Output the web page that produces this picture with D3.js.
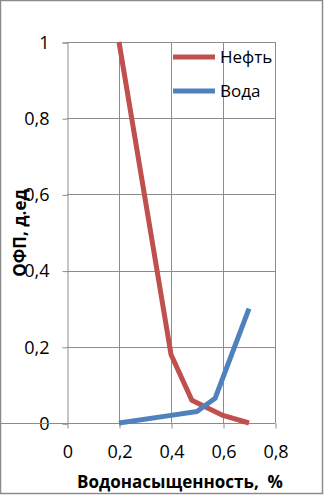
<!DOCTYPE html>
<html>
<head>
<meta charset="utf-8">
<script src="https://cdn.jsdelivr.net/npm/d3@7"></script>
<style>
body{margin:0;background:#fff;}
text{font-family:"Open Sans","Noto Sans",sans-serif;white-space:pre;}
</style>
</head>
<body>
<div class="canvas"></div>
<script>
const W=324,H=495;
const xTicks=[0,0.2,0.4,0.6,0.8];
const yTicks=[0,0.2,0.4,0.6,0.8,1];
const oilX=[0.2,0.4,0.48,0.6,0.7];
const oilY=[1,0.18,0.06,0.02,0];
const waterX=[0.2,0.4,0.5,0.57,0.7];
const waterY=[0,0.02,0.03,0.065,0.3];
const seriesNames=["Нефть","Вода"];
const colors=["#C0504D","#4F81BD"];

const fmt=d=>String(d).replace(".",",");

const xScale=d3.scaleLinear().domain([0,0.8]).range([67,275]);
const yScale=d3.scaleLinear().domain([0,1]).range([423,42]);

const svg=d3.select(".canvas").append("svg")
  .attr("width",W).attr("height",H);

svg.append("rect").attr("x",0.5).attr("y",0.5).attr("width",W-2).attr("height",H-2)
  .attr("fill","#fff").attr("stroke","#8c8c8c").attr("stroke-width",1.5);

// grid
svg.append("g").selectAll("line").data(yTicks.slice(1)).join("line")
  .attr("x1",67).attr("x2",275)
  .attr("y1",d=>Math.round(yScale(d))+0.5).attr("y2",d=>Math.round(yScale(d))+0.5)
  .attr("stroke","#8c8c8c");
svg.append("g").selectAll("line").data(xTicks.slice(1)).join("line")
  .attr("y1",42).attr("y2",423)
  .attr("x1",d=>Math.round(xScale(d))+0.5).attr("x2",d=>Math.round(xScale(d))+0.5)
  .attr("stroke","#8c8c8c");

const yAxis=d3.axisLeft(yScale).tickValues(yTicks).tickFormat(fmt).tickSize(5).tickPadding(13);
const xAxis=d3.axisBottom(xScale).tickValues(xTicks).tickFormat(fmt).tickSize(5).tickPadding(17);

const gy=svg.append("g").attr("transform","translate(67.5,0.5)").call(yAxis);
const gx=svg.append("g").attr("transform","translate(0.5,423.5)").call(xAxis);
[gy,gx].forEach(g=>{
  g.select(".domain").attr("stroke","#8c8c8c");
  g.selectAll(".tick line").attr("stroke","#8c8c8c");
  g.selectAll("text").attr("font-size",18).attr("fill","#000")
   .style("font-family","'Open Sans',sans-serif");
});
gx.select(".domain").attr("d","M-5,0H275");

const line=d3.line().x(d=>xScale(d[0])).y(d=>yScale(d[1]));
const data=[d3.zip(oilX,oilY),d3.zip(waterX,waterY)];
svg.append("g").selectAll("path").data(data).join("path")
  .attr("d",line).attr("fill","none")
  .attr("stroke",(d,i)=>colors[i]).attr("stroke-width",5)
  .attr("stroke-linejoin","round").attr("stroke-linecap","butt");

// legend
const leg=svg.append("g").selectAll("g").data(seriesNames).join("g")
  .attr("transform",(d,i)=>`translate(173,${57+i*34})`);
leg.append("line").attr("x1",0).attr("x2",42)
  .attr("stroke",(d,i)=>colors[i]).attr("stroke-width",5);
leg.append("text").attr("x",47).attr("y",6).attr("font-size",17).text(d=>d);

svg.append("text").attr("x",180).attr("y",488).attr("text-anchor","middle")
  .attr("font-size",17).attr("font-weight","bold").text("Водонасыщенность,  %");
svg.append("text").attr("transform","translate(26,233) rotate(-90)")
  .attr("text-anchor","middle").attr("font-size",17).attr("font-weight","bold")
  .text("ОФП, д.ед");
</script>
</body>
</html>
